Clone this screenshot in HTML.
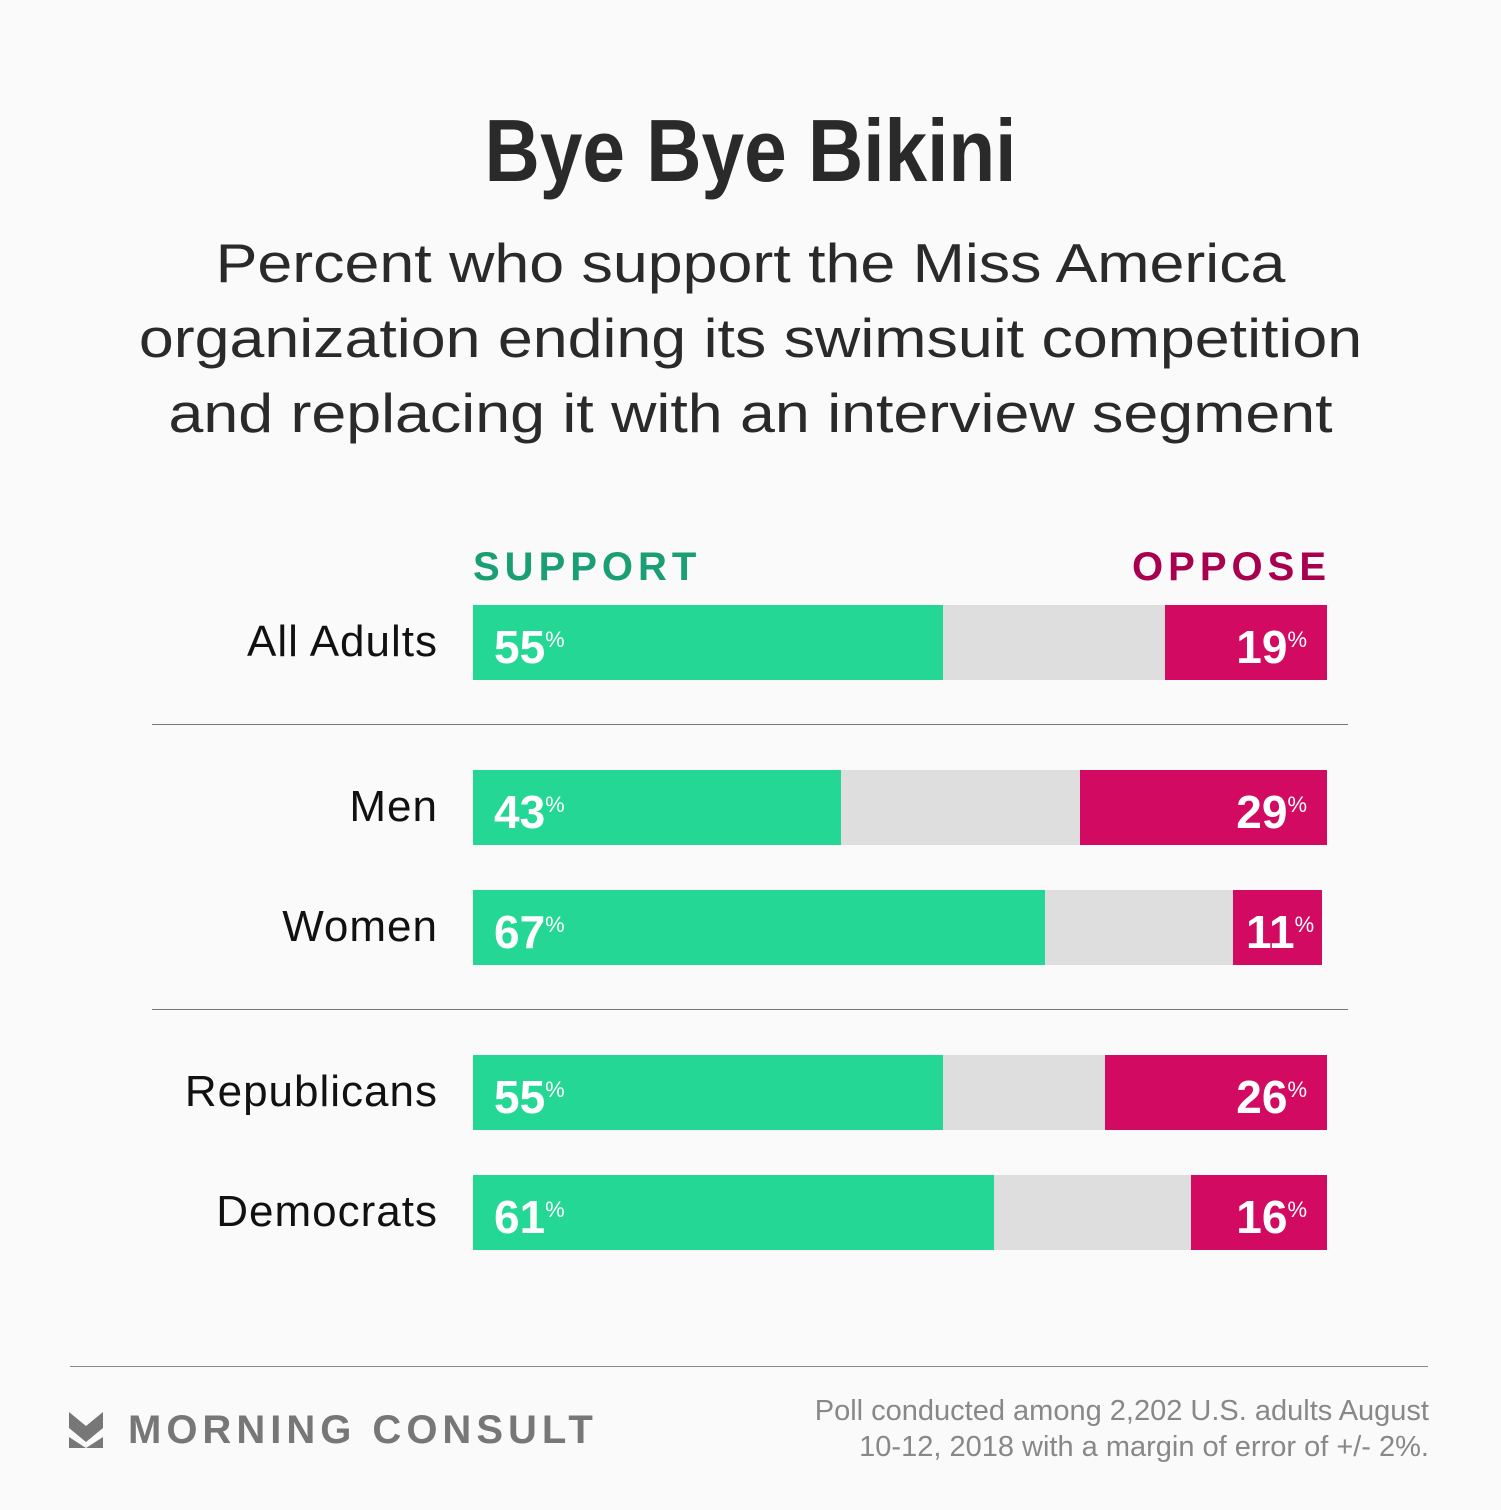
<!DOCTYPE html>
<html><head><meta charset="utf-8"><style>
body{margin:0;width:1501px;height:1510px;background:#fafafa;position:relative;overflow:hidden;font-family:"Liberation Sans",sans-serif;color:#222}
.a{position:absolute}
.title{left:0;width:1501px;top:100px;text-align:center;font-weight:bold;font-size:88px;color:#2a2a2a;transform:scaleX(0.87)}
.sub{left:0;width:1501px;top:226px;text-align:center;font-size:55px;line-height:75px;color:#2a2a2a;transform:scaleX(1.14)}
.lab{right:1063px;font-size:44px;color:#111;text-align:right;white-space:nowrap;letter-spacing:1px}
.bar{height:75px}
.g{background:#24d795}.r{background:#d20a62}.y{background:#dedede}
.p{font-weight:bold;font-size:46px;color:#fff;line-height:75px;white-space:nowrap}
.p sup{font-size:22px;font-weight:normal;vertical-align:16px;margin-left:0}
.hl{height:1px;background:#777}
</style></head><body>
<div class="a title">Bye Bye Bikini</div>
<div class="a sub">Percent who support the Miss America<br>organization ending its swimsuit competition<br>and replacing it with an interview segment</div>
<div class="a" style="left:473px;top:545px;font-size:40px;font-weight:bold;letter-spacing:5px;color:#1a9e73">SUPPORT</div>
<div class="a" style="right:170px;top:545px;font-size:40px;font-weight:bold;letter-spacing:5px;color:#a8004f">OPPOSE</div>

<div class="a lab" style="top:617px">All Adults</div>
<div class="a bar y" style="left:473px;top:605px;width:854px"></div>
<div class="a bar g" style="left:473px;top:605px;width:470px"></div>
<div class="a bar r" style="left:1165px;top:605px;width:162px"></div>
<div class="a p" style="left:494px;top:602px">55<sup>%</sup></div>
<div class="a p" style="right:194px;top:602px">19<sup>%</sup></div>

<div class="a hl" style="left:152px;top:724px;width:1196px"></div>

<div class="a lab" style="top:782px">Men</div>
<div class="a bar y" style="left:473px;top:770px;width:854px"></div>
<div class="a bar g" style="left:473px;top:770px;width:368px"></div>
<div class="a bar r" style="left:1080px;top:770px;width:247px"></div>
<div class="a p" style="left:494px;top:767px">43<sup>%</sup></div>
<div class="a p" style="right:194px;top:767px">29<sup>%</sup></div>

<div class="a lab" style="top:902px">Women</div>
<div class="a bar y" style="left:473px;top:890px;width:760px"></div>
<div class="a bar g" style="left:473px;top:890px;width:572px"></div>
<div class="a bar r" style="left:1233px;top:890px;width:89px"></div>
<div class="a p" style="left:494px;top:887px">67<sup>%</sup></div>
<div class="a p" style="left:1246px;top:887px">11<sup>%</sup></div>

<div class="a hl" style="left:152px;top:1009px;width:1196px"></div>

<div class="a lab" style="top:1067px">Republicans</div>
<div class="a bar y" style="left:473px;top:1055px;width:854px"></div>
<div class="a bar g" style="left:473px;top:1055px;width:470px"></div>
<div class="a bar r" style="left:1105px;top:1055px;width:222px"></div>
<div class="a p" style="left:494px;top:1052px">55<sup>%</sup></div>
<div class="a p" style="right:194px;top:1052px">26<sup>%</sup></div>

<div class="a lab" style="top:1187px">Democrats</div>
<div class="a bar y" style="left:473px;top:1175px;width:854px"></div>
<div class="a bar g" style="left:473px;top:1175px;width:521px"></div>
<div class="a bar r" style="left:1191px;top:1175px;width:136px"></div>
<div class="a p" style="left:494px;top:1172px">61<sup>%</sup></div>
<div class="a p" style="right:194px;top:1172px">16<sup>%</sup></div>

<div class="a hl" style="left:70px;top:1366px;width:1358px;background:#888"></div>
<svg class="a" style="left:69px;top:1412px" width="34" height="36" viewBox="0 0 34 36">
<polygon points="0,0 17,14 34,0 34,16 17,30 0,16" fill="#777"/>
<polygon points="0,25 17,36 0,36" fill="#777"/>
<polygon points="34,25 17,36 34,36" fill="#777"/>
</svg>
<div class="a" style="left:128px;top:1408px;font-size:40px;font-weight:bold;letter-spacing:5px;color:#777">MORNING CONSULT</div>
<div class="a" style="right:72px;top:1393px;font-size:29px;line-height:36px;color:#888;text-align:right">Poll conducted among 2,202 U.S. adults August<br>10-12, 2018 with a margin of error of +/- 2%.</div>
</body></html>
